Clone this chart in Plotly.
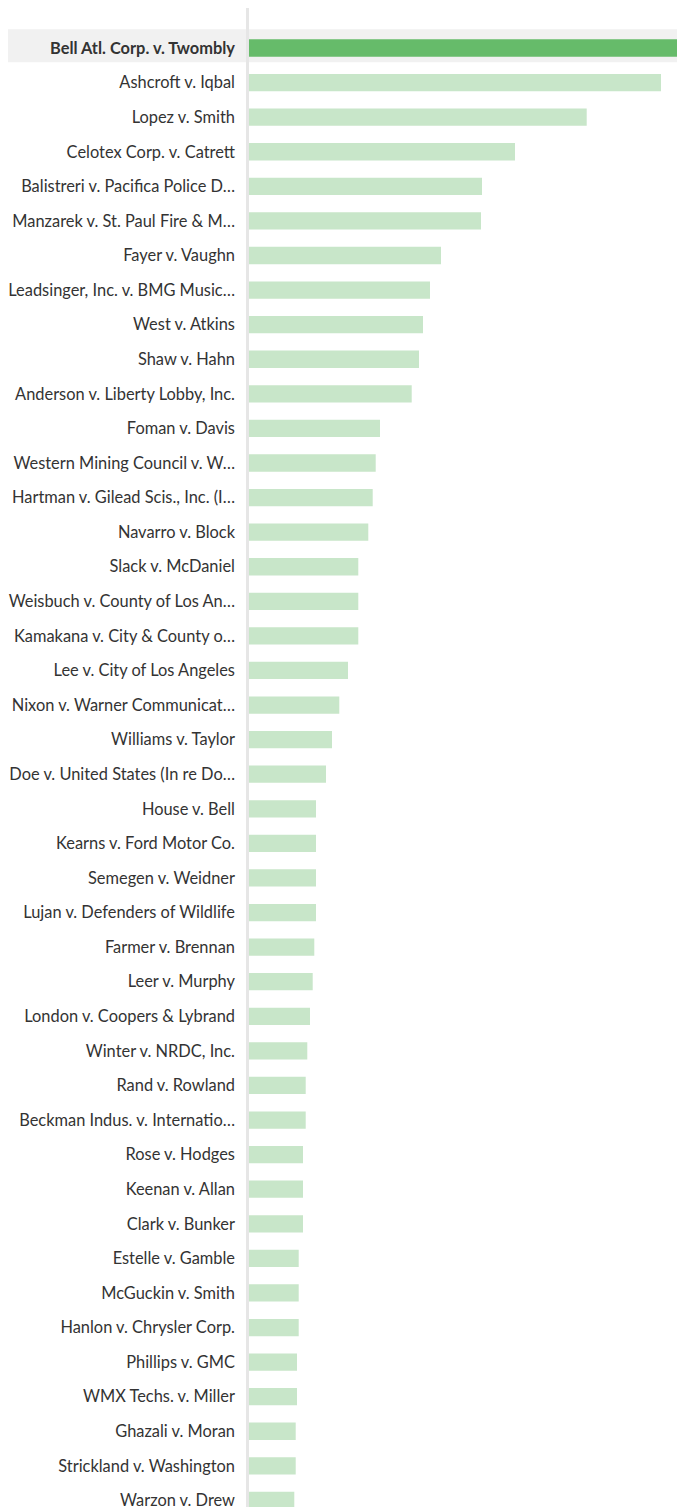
import plotly.graph_objects as go

cases = [
    "Bell Atl. Corp. v. Twombly", "Ashcroft v. Iqbal", "Lopez v. Smith", "Celotex Corp. v. Catrett",
    "Balistreri v. Pacifica Police D…", "Manzarek v. St. Paul Fire & M…", "Fayer v. Vaughn",
    "Leadsinger, Inc. v. BMG Music…", "West v. Atkins", "Shaw v. Hahn", "Anderson v. Liberty Lobby, Inc.",
    "Foman v. Davis", "Western Mining Council v. W…", "Hartman v. Gilead Scis., Inc. (I…",
    "Navarro v. Block", "Slack v. McDaniel", "Weisbuch v. County of Los An…", "Kamakana v. City & County o…",
    "Lee v. City of Los Angeles", "Nixon v. Warner Communicat…", "Williams v. Taylor",
    "Doe v. United States (In re Do…", "House v. Bell", "Kearns v. Ford Motor Co.", "Semegen v. Weidner",
    "Lujan v. Defenders of Wildlife", "Farmer v. Brennan", "Leer v. Murphy", "London v. Coopers & Lybrand",
    "Winter v. NRDC, Inc.", "Rand v. Rowland", "Beckman Indus. v. Internatio…", "Rose v. Hodges",
    "Keenan v. Allan", "Clark v. Bunker", "Estelle v. Gamble", "McGuckin v. Smith", "Hanlon v. Chrysler Corp.",
    "Phillips v. GMC", "WMX Techs. v. Miller", "Ghazali v. Moran", "Strickland v. Washington", "Warzon v. Drew",
]
values = [
    435, 412, 337.7, 266, 233, 232, 192, 181, 174, 170, 162.7,
    131, 126.7, 123.7, 119.3, 109.3, 109.3, 109.3, 99, 90.3, 83, 77,
    67, 67, 67, 67, 65.3, 63.7, 61, 58.3, 56.7, 56.7, 54, 54, 54,
    49.7, 49.7, 49.7, 48, 48, 46.7, 46.7, 45.3,
]
highlight = "Bell Atl. Corp. v. Twombly"

colors = ["#66bb6a" if c == highlight else "#c8e6c9" for c in cases]
ticktext = [f"<b>{c}</b>" if c == highlight else c for c in cases]

fig = go.Figure(go.Bar(
    x=values, y=cases, orientation="h",
    marker=dict(color=colors, line=dict(width=0)),
    hoverinfo="x+y",
))

# page has an 8px body margin; figure sized to fill the rest of the window
W, H = 677, 1499
L = 241
plot_w = W - L

fig.add_shape(type="rect", xref="paper", yref="y",
              x0=(-1 - L) / plot_w, x1=1, y0=-0.54, y1=0.41,
              fillcolor="#f1f1f1", line=dict(width=0), layer="below")

fig.update_layout(
    width=W, height=H,
    margin=dict(l=L, r=0, t=0, b=0, pad=0, autoexpand=False),
    plot_bgcolor="white", paper_bgcolor="white",
    bargap=0.5,
    showlegend=False,
    font=dict(family="Lato", size=16.4, color="#333333"),
)
fig.update_xaxes(range=[0, 436], showgrid=False, zeroline=False, showticklabels=False,
                 showline=False, fixedrange=True, automargin=False)
fig.update_yaxes(type="category", categoryorder="array", categoryarray=cases,
                 range=[42.19, -1.157], tickvals=cases, ticktext=ticktext,
                 showgrid=False, zeroline=False, ticks="", showline=True,
                 linecolor="#e6e6e6", linewidth=2.5, ticklabelstandoff=8, automargin=False,
                 tickfont=dict(family="Lato", size=16.4, color="#333333"), fixedrange=True)

fig.write_html("out.html")
